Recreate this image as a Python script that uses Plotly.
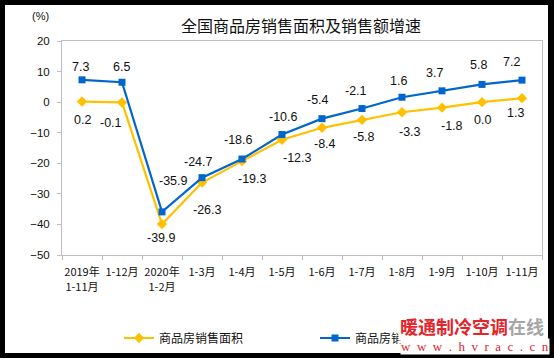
import plotly.graph_objects as go

categories = ["2019年<br>1-11月", "1-12月", "2020年<br>1-2月", "1-3月", "1-4月", "1-5月",
              "1-6月", "1-7月", "1-8月", "1-9月", "1-10月", "1-11月"]
area_growth = [0.2, -0.1, -39.9, -26.3, -19.3, -12.3, -8.4, -5.8, -3.3, -1.8, 0.0, 1.3]
sales_growth = [7.3, 6.5, -35.9, -24.7, -18.6, -10.6, -5.4, -2.1, 1.6, 3.7, 5.8, 7.2]
y_ticks = [20, 10, 0, -10, -20, -30, -40, -50]

# label placement offsets in pixels (dx right, dy down), as in the source chart
sales_dx = [-2, -1, 11, -4, -4, 1, -4, -6, -4, -8, -4, -11]
sales_dy = [-13, -15, -31, -16, -19, -18, -19, -18, -16, -18, -19, -18]
area_dx = [0, -11, -1, 5, 10, 15, 3, 2, 8, 10, 0, -7]
area_dy = [18, 21, 14, 27, 18, 18, 16, 17, 20, 18, 18, 15]

FONT = "Liberation Sans, Arial, Noto Sans CJK SC, sans-serif"
CJK = "Noto Sans CJK SC, sans-serif"

fig = go.Figure()
fig.add_trace(go.Scatter(
    x=categories, y=area_growth, name="商品房销售面积", mode="lines+markers",
    line=dict(color="#FFC000", width=2.2),
    marker=dict(symbol="diamond", size=8, color="#FFC000"),
    legend="legend", cliponaxis=False,
))
fig.add_trace(go.Scatter(
    x=categories, y=sales_growth, name="商品房销售额", mode="lines+markers",
    line=dict(color="#0066CC", width=2.2),
    marker=dict(symbol="square", size=7, color="#0066CC"),
    legend="legend2", cliponaxis=False,
))

L, T, W, H = 62, 41, 480, 214
def px(x):
    return (x - L) / W
def py(y):
    return (T + H - y) / H

annotations = []
for cat, v, dx, dy in zip(categories, sales_growth, sales_dx, sales_dy):
    annotations.append(dict(x=cat, y=v, xref="x", yref="y", text=f"{v:.1f}",
                            showarrow=False, xshift=dx, yshift=-dy,
                            xanchor="center", yanchor="middle",
                            font=dict(family=FONT, size=12.5, color="#111111")))
for cat, v, dx, dy in zip(categories, area_growth, area_dx, area_dy):
    annotations.append(dict(x=cat, y=v, xref="x", yref="y", text=f"{v:.1f}",
                            showarrow=False, xshift=dx, yshift=-dy,
                            xanchor="center", yanchor="middle",
                            font=dict(family=FONT, size=12.5, color="#111111")))

annotations += [
    dict(text="(%)", xref="paper", yref="paper", x=px(40), y=py(16),
         xanchor="center", yanchor="middle", showarrow=False,
         font=dict(family=FONT, size=11, color="#111111")),
    dict(text="<b><span style='color:#E3242B'>暖通制冷空调</span>"
              "<span style='color:#A6A6A6'>在线</span></b>",
         xref="paper", yref="paper", x=px(398), y=py(326),
         xanchor="left", yanchor="middle", showarrow=False,
         bgcolor="white", borderpad=1,
         font=dict(family=CJK, size=18)),
    dict(text="w\u00a0 w\u00a0 w\u00a0 .\u00a0 h\u00a0 v\u00a0 r\u00a0 a\u00a0 c\u00a0 .\u00a0 c\u00a0 n",
         xref="paper", yref="paper", x=px(400), y=py(346),
         xanchor="left", yanchor="middle", showarrow=False,
         bgcolor="white", borderpad=0,
         font=dict(family="Liberation Serif, serif", size=13, color="#E3242B")),
]

fig.update_layout(
    width=554, height=358,
    margin=dict(l=L, r=554 - L - W, t=T, b=358 - T - H, autoexpand=False),
    paper_bgcolor="black", plot_bgcolor="white",
    showlegend=True,
    font=dict(family=FONT, size=11, color="#111111"),
    title=dict(text="全国商品房销售面积及销售额增速", x=301 / 554, xanchor="center",
               y=1 - 26 / 358, yanchor="middle",
               font=dict(family=CJK, size=16, color="#111111")),
    xaxis=dict(type="category", showline=True, linecolor="#BFBFBF", linewidth=1,
               mirror=True, ticks="outside", tickson="boundaries", ticklen=4,
               tickcolor="#BFBFBF", showgrid=False, tickangle=0, automargin=False,
               ticklabelstandoff=7,
               tickfont=dict(family=CJK, size=11, color="#111111"),
               range=[-0.5, 11.5]),
    yaxis=dict(range=[-50, 20], tickvals=y_ticks, showline=True, linecolor="#BFBFBF",
               linewidth=1, mirror=True, ticks="outside", ticklen=4, tickcolor="#BFBFBF",
               showgrid=False, zeroline=False, automargin=False, ticklabelstandoff=5,
               tickfont=dict(family=FONT, size=11.5, color="#111111")),
    legend=dict(x=px(119), y=py(338), xanchor="left", yanchor="middle",
                orientation="h", bgcolor="rgba(0,0,0,0)",
                font=dict(family=CJK, size=12, color="#111111"),
                itemwidth=30),
    legend2=dict(x=px(315), y=py(338), xanchor="left", yanchor="middle",
                 orientation="h", bgcolor="rgba(0,0,0,0)",
                 font=dict(family=CJK, size=12, color="#111111"),
                 itemwidth=30),
    shapes=[dict(type="rect", xref="paper", yref="paper", layer="below",
                 x0=px(5), x1=px(548), y0=py(353), y1=py(5),
                 fillcolor="white", line=dict(width=0))],
    annotations=annotations,
)

fig.write_html("out.html", config={"displayModeBar": False},
               post_script="document.body.style.margin='0';")
